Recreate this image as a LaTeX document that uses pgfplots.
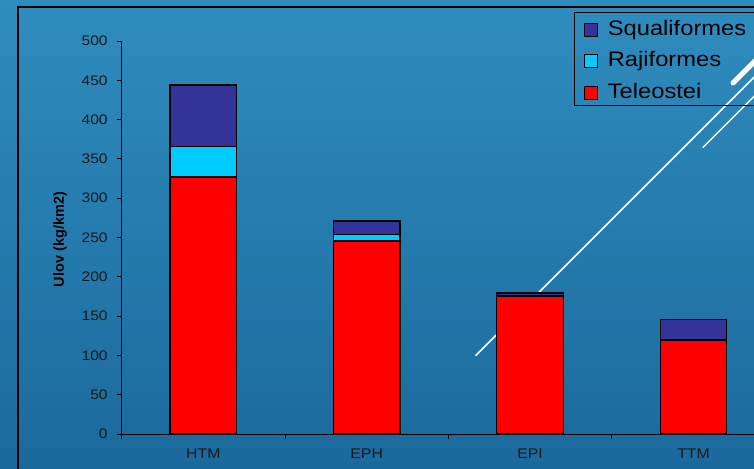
\documentclass[border=0pt]{standalone}
\usepackage{pgfplots}
\pgfplotsset{compat=1.18}
\usepackage{fontspec}
\setmainfont{Liberation Sans}[FakeStretch=1.13]
\newfontfamily\plainfont{Liberation Sans}
\definecolor{bgtop}{RGB}{47,141,190}
\definecolor{bgbot}{RGB}{27,105,156}
\definecolor{squal}{RGB}{51,51,153}
\definecolor{raji}{RGB}{0,204,255}
\definecolor{tele}{RGB}{255,0,0}
\pgfplotsset{sqlegend/.style={/pgfplots/legend image code/.code={\draw[draw=black, line width=1pt, fill=#1] (0pt,-8.5pt) rectangle (13pt,4.5pt);}}}
\begin{document}
\begin{tikzpicture}[x=1pt,y=1pt]
\begin{scope}
\clip (0,0) rectangle (754,468);
\shade[top color=bgtop, bottom color=bgbot] (0,0) rectangle (754,468);
\draw[black, line width=1.6pt] (18,-5) -- (18,461) -- (760,461);
\draw[white, line width=1.5pt] (475.5,112.3) -- (765,401.8);
\draw[white, line width=1.5pt] (702.7,320.3) -- (765,382.6);
\draw[white, line width=5pt, line cap=round] (733,385) -- (765,417);
\begin{axis}[at={(121.6pt,34pt)}, anchor=south west, scale only axis,
  width=653.6pt, height=393pt,
  xmin=-0.5, xmax=3.5, ymin=0, ymax=500,
  ybar stacked, bar width=66.5pt,
  axis lines=left, axis line style={-, black, line width=1pt},
  ytick={0,50,...,500},
  xtick={0,1,2,3}, xticklabels={HTM,EPH,EPI,TTM},
  minor xtick={-0.5,0.5,1.5,2.5,3.5},
  tick align=outside, major tick length=5pt, minor tick length=5pt,
  tick style={black, line width=0.8pt},
  major x tick style={draw=none},
  /pgf/number format/assume math mode=true,
  yticklabel style={font=\fontsize{13.8}{15}\selectfont, inner sep=0pt, anchor=east, xshift=-8.8pt, text=black!90},
  xticklabel style={font=\fontsize{14}{16}\selectfont, inner sep=0pt, anchor=north, yshift=-10pt, text=black!90},
  ylabel={Ulov (kg/km2)},
  ylabel style={at={(axis description cs:-0.0942,0.495)}, anchor=center, font=\plainfont\fontsize{14.5}{16}\selectfont\bfseries},
  reverse legend,
  legend cell align=left,
  legend style={at={(axis description cs:0.692,1.0738)}, anchor=north west,
    draw=black, line width=1.2pt, fill=none,
    font=\fontsize{21}{24}\selectfont,
    inner xsep=9.3pt, inner ysep=4.5pt, row sep=10.5pt,
    nodes={inner xsep=10pt, inner ysep=0pt, text height=18pt, text depth=3pt}},
]
\addplot[fill=tele, draw=black, line width=1.2pt, /pgfplots/every axis plot post/.append style={sqlegend=tele}] coordinates {(0,327) (1,245.5) (2,175) (3,119.5)};
\addplot[fill=raji, draw=black, line width=1.2pt, /pgfplots/every axis plot post/.append style={sqlegend=raji}] coordinates {(0,39) (1,8.5) (2,0.8) (3,1.2)};
\addplot[fill=squal, draw=black, line width=1.2pt, /pgfplots/every axis plot post/.append style={sqlegend=squal}] coordinates {(0,78) (1,17) (2,3.5) (3,25)};
\legend{Teleostei,Rajiformes,Squaliformes\hspace*{60pt}}
\end{axis}
\end{scope}
\pgfresetboundingbox
\useasboundingbox (0,0) rectangle (754,468);
\end{tikzpicture}
\end{document}
